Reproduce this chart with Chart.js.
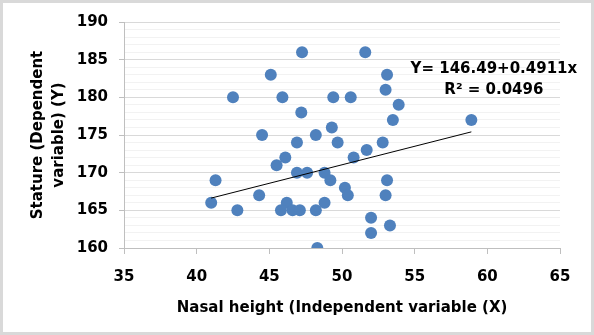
<!DOCTYPE html>
<html>
<head>
<meta charset="utf-8">
<script src="https://cdn.jsdelivr.net/npm/chart.js@4.4.0/dist/chart.umd.min.js"></script>
<style>
body { margin: 0; background: #fff; }
</style>
</head>
<body>
<canvas id="chartCanvas" width="594" height="335"></canvas>
<script>
// nasal height (X) and stature (Y), one entry per subject
const nasalHeight = [
    47.25, 51.6, 45.1, 53.1, 53.0, 42.5, 45.9, 49.4, 50.6, 53.9,
    47.2, 53.5, 58.9, 49.3, 44.5, 48.2, 46.9, 49.7, 52.8, 51.7,
    46.1, 50.8, 45.5, 46.9, 47.6, 48.8, 41.3, 49.2, 53.1, 50.2,
    44.3, 50.4, 53.0, 41.0, 46.2, 48.8, 42.8, 45.8, 46.6, 47.1,
    48.2, 52.0, 53.3, 52.0, 48.3
];
const stature = [
    186, 186, 183, 183, 181, 180, 180, 180, 180, 179,
    178, 177, 177, 176, 175, 175, 174, 174, 174, 173,
    172, 172, 171, 170, 170, 170, 169, 169, 169, 168,
    167, 167, 167, 166, 166, 166, 165, 165, 165, 165,
    165, 164, 163, 162, 160
];

const trendIntercept = 146.49;
const trendSlope = 0.4911;
const rSquared = 0.0496;

const xTicks = [35, 65, 5];   // min, max, step
const yTicks = [160, 190, 5];

const FONT = 'DejaVu Sans';

let points = nasalHeight.map((x, i) => ({x: x, y: stature[i]}));
let xMin = Math.min(...nasalHeight);
let xMax = Math.max(...nasalHeight);
let trend = [xMin, xMax].map(x => ({x: x, y: trendIntercept + trendSlope * x}));

const frame = {
    id: 'frame',
    afterDraw(chart){
        let ctx = chart.ctx;
        ctx.save();
        ctx.strokeStyle = '#d9d9d9';
        ctx.lineWidth = 3;
        ctx.strokeRect(1.5, 1.5, chart.width - 3, chart.height - 3);

        // regression equation label
        let xs = chart.scales.x, ys = chart.scales.y;
        let cx = xs.getPixelForValue(60.45);
        let cy = ys.getPixelForValue(183.8);
        ctx.fillStyle = '#000';
        ctx.font = 'bold 15px "' + FONT + '"';
        ctx.textAlign = 'center';
        ctx.textBaseline = 'middle';
        ctx.fillText('Y= ' + trendIntercept + '+' + trendSlope + 'x', cx, cy);
        ctx.fillText('R² = ' + rSquared, cx, cy + 21);
        ctx.restore();
    }
};

const config = {
    data: {
        datasets: [
            {
                type: 'line',
                data: trend,
                borderColor: '#000',
                borderWidth: 1,
                pointRadius: 0,
                fill: false
            },
            {
                type: 'scatter',
                data: points,
                backgroundColor: '#4f81bd',
                borderColor: '#4f81bd',
                borderWidth: 0,
                pointRadius: 6
            }
        ]
    },
    options: {
        responsive: false,
        animation: false,
        layout: { padding: { top: 22, right: 34, bottom: 0, left: 0 } },
        plugins: { legend: { display: false }, tooltip: { enabled: false } },
        scales: {
            x: {
                type: 'linear',
                position: 'bottom',
                min: xTicks[0], max: xTicks[1],
                ticks: {
                    stepSize: xTicks[2],
                    color: '#000',
                    padding: 14,
                    font: { family: FONT, size: 15, weight: 'bold' }
                },
                grid: { drawOnChartArea: false, tickLength: 6, tickColor: '#bfbfbf' },
                border: { color: '#bfbfbf' },
                title: {
                    display: true,
                    text: 'Nasal height (Independent variable (X)',
                    color: '#000',
                    font: { family: FONT, size: 15, weight: 'bold', lineHeight: 1.4 },
                    padding: { top: 0, bottom: 16 }
                },
                afterFit(s){ s.height = 87; }
            },
            y: {
                type: 'linear',
                min: yTicks[0], max: yTicks[1],
                ticks: {
                    stepSize: 1,
                    autoSkip: false,
                    color: '#000',
                    padding: 11,
                    font: { family: FONT, size: 15, weight: 'bold' },
                    callback: v => (v % yTicks[2] === 0 ? v : '')
                },
                grid: {
                    color: c => (c.tick && c.tick.value % yTicks[2] === 0 ? '#d9d9d9' : '#f2f2f2'),
                    tickColor: c => (c.tick && c.tick.value % yTicks[2] === 0 ? '#bfbfbf' : 'rgba(0,0,0,0)'),
                    tickLength: 5
                },
                border: { color: '#bfbfbf' },
                title: {
                    display: true,
                    text: ['Stature (Dependent', 'variable) (Y)'],
                    color: '#000',
                    font: { family: FONT, size: 15, weight: 'bold', lineHeight: 1.4 },
                    padding: { top: 28, bottom: 0 }
                },
                afterFit(s){ s.width = 124; }
            }
        }
    },
    plugins: [frame]
};

let myChart = new Chart(document.getElementById('chartCanvas'), config);
</script>
</body>
</html>
